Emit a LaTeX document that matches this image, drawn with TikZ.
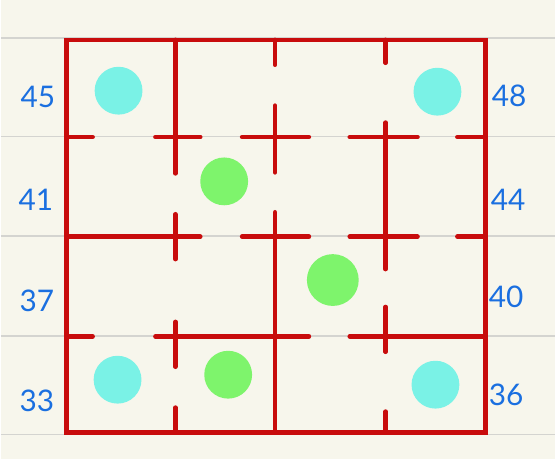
\documentclass[tikz,border=0pt]{standalone}
\usepackage{fontspec}
\setmainfont{Lato}
\usetikzlibrary{calc,math}
\definecolor{paper}{HTML}{F7F6EC}
\definecolor{ruled}{HTML}{D4D4D0}
\definecolor{wallred}{HTML}{C80C0C}
\definecolor{spotcyan}{HTML}{7AF2E6}
\definecolor{spotgreen}{HTML}{7EF46C}
\definecolor{numblue}{HTML}{1A6FE0}

\begin{document}
\begin{tikzpicture}
[x=0.02cm,y=-0.02cm,
wall/.style={draw=wallred,line width=2.6pt,line cap=round},
cyanspot/.style={circle,fill=spotcyan,minimum size=0.96cm,inner sep=0pt},
greenspot/.style={circle,fill=spotgreen,minimum size=0.96cm,inner sep=0pt},
num/.style={text=numblue,font=\fontsize{17}{17}\selectfont,inner sep=0pt},]

%Paper and ruled lines
\fill[paper] (0,0) rectangle (556,461);
\foreach \r in {38,137,237,337,436}
  \draw[ruled,line width=1.1pt] (0,\r) -- (556,\r);

%Grid lines (columns and rows)
\tikzmath{\xa = 66; \xb = 175; \xc = 275; \xd = 386; \xe = 486; }
\tikzmath{\ya = 40; \yb = 137.5; \yc = 237.5; \yd = 337.5; \ye = 434; }

%Outer wall
\draw[wall,line cap=rect] (\xa,\ya) rectangle (\xe,\ye);

%Horizontal walls
\foreach \p/\q in {66/92,155/200,242/309,350/418,458/486}
  \draw[wall] (\p,\yb) -- (\q,\yb);
\foreach \p/\q in {66/200,242/309,350/418,458/486}
  \draw[wall] (\p,\yc) -- (\q,\yc);
\foreach \p/\q in {66/92,155/309,350/486}
  \draw[wall] (\p,\yd) -- (\q,\yd);

%Vertical walls
\foreach \p/\q in {40/174,215/260,323/368,409/434}
  \draw[wall] (\xb,\p) -- (\xb,\q);
\foreach \p/\q in {40/65,106/173,213/434}
  \draw[wall] (\xc,\p) -- (\xc,\q);
\foreach \p/\q in {40/63,123/270,308/353,413/434}
  \draw[wall] (\xd,\p) -- (\xd,\q);

%Spots
\node[cyanspot] (s45) at (118,91) {};
\node[cyanspot] (s48) at (438,92) {};
\node[greenspot] (s42) at (224,182) {};
\node[greenspot,minimum height=1.04cm] (s39) at (333,281) {};
\node[greenspot] (s34) at (228,376) {};
\node[cyanspot] (s33) at (117,381) {};
\node[cyanspot] (s36) at (436,386) {};

%Row numbers
\node[num] (n45) at (37,97) {45};
\node[num] (n41) at (35,201) {41};
\node[num] (n37) at (36,302) {37};
\node[num] (n33) at (36,402) {33};
\node[num] (n48) at (510,96) {48};
\node[num] (n44) at (509,201) {44};
\node[num] (n40) at (507,298) {40};
\node[num] (n36) at (507,396) {36};

\end{tikzpicture}
\end{document}
